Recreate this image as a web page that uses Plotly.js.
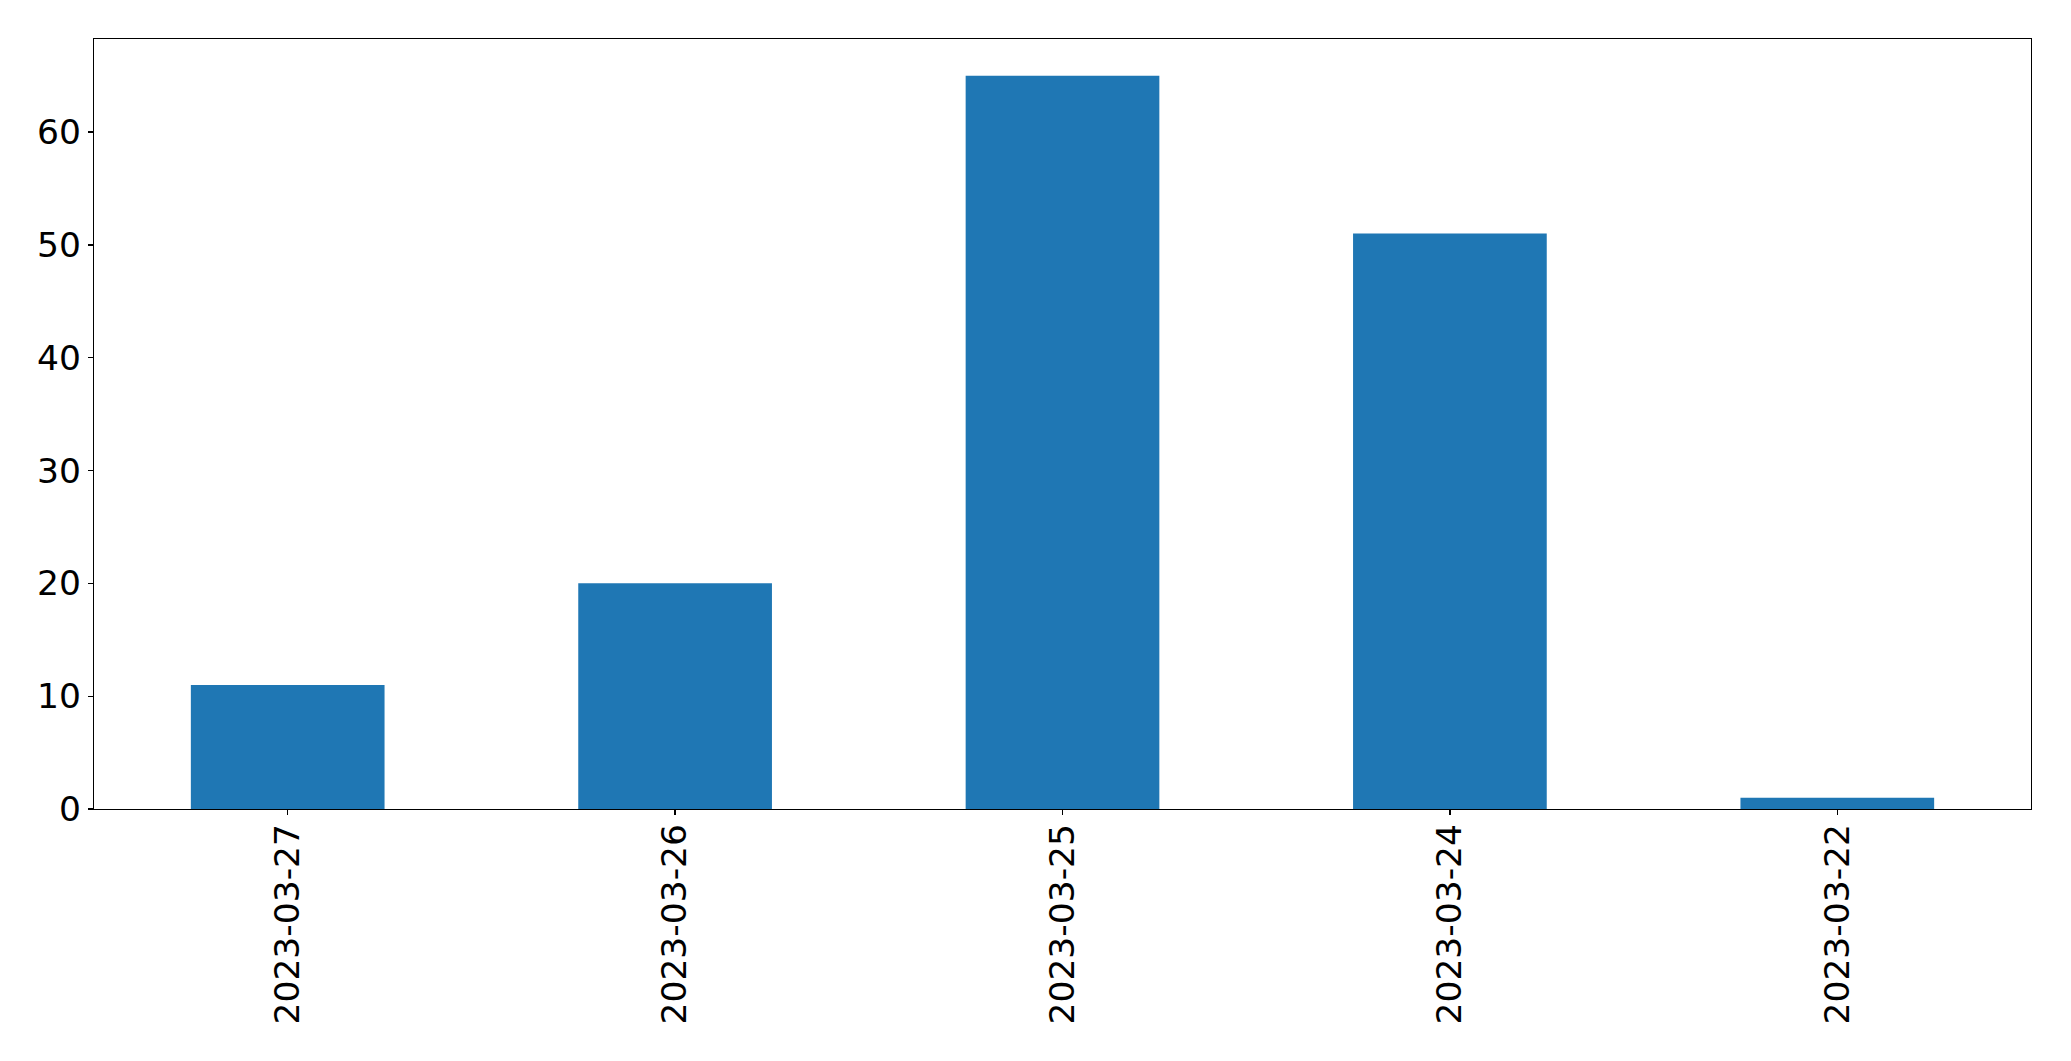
<!DOCTYPE html>
<html>
<head>
<meta charset="utf-8">
<script src="https://cdn.plot.ly/plotly-3.0.1.min.js"></script>
<style>html,body{margin:0;padding:0;background:#fff;}#chart{width:2071px;height:1061px;}</style>
</head>
<body>
<div id="chart"></div>
<script>
const dates = ["2023-03-27", "2023-03-26", "2023-03-25", "2023-03-24", "2023-03-22"];
const counts = [11, 20, 65, 51, 1];
const yTicks = [0, 10, 20, 30, 40, 50, 60];

const trace = {
  type: 'bar',
  x: dates,
  y: counts,
  marker: {color: '#1f77b4', line: {width: 0}},
  hoverinfo: 'x+y'
};

const axisFont = {family: 'DejaVu Sans', size: 34.5, color: '#000'};

const layout = {
  width: 2071,
  height: 1061,
  margin: {l: 94, r: 40, t: 39, b: 252, pad: 0},
  paper_bgcolor: '#fff',
  plot_bgcolor: '#fff',
  showlegend: false,
  bargap: 0.5,
  xaxis: {
    type: 'category',
    range: [-0.5, 4.5],
    tickangle: -90,
    tickfont: axisFont,
    ticks: 'outside',
    ticklen: 5,
    tickwidth: 1.2,
    tickcolor: '#000',
    ticklabelstandoff: -5,
    showline: true,
    linecolor: '#000',
    linewidth: 1.2,
    mirror: true,
    showgrid: false,
    zeroline: false,
    fixedrange: true
  },
  yaxis: {
    range: [0, 68.25],
    tickvals: yTicks,
    ticktext: yTicks.map(String),
    tickfont: axisFont,
    ticks: 'outside',
    ticklen: 5,
    tickwidth: 1.2,
    tickcolor: '#000',
    showline: true,
    linecolor: '#000',
    linewidth: 1.2,
    mirror: true,
    showgrid: false,
    zeroline: false,
    fixedrange: true
  }
};

Plotly.newPlot('chart', [trace], layout, {displayModeBar: false, staticPlot: true});
</script>
</body>
</html>
